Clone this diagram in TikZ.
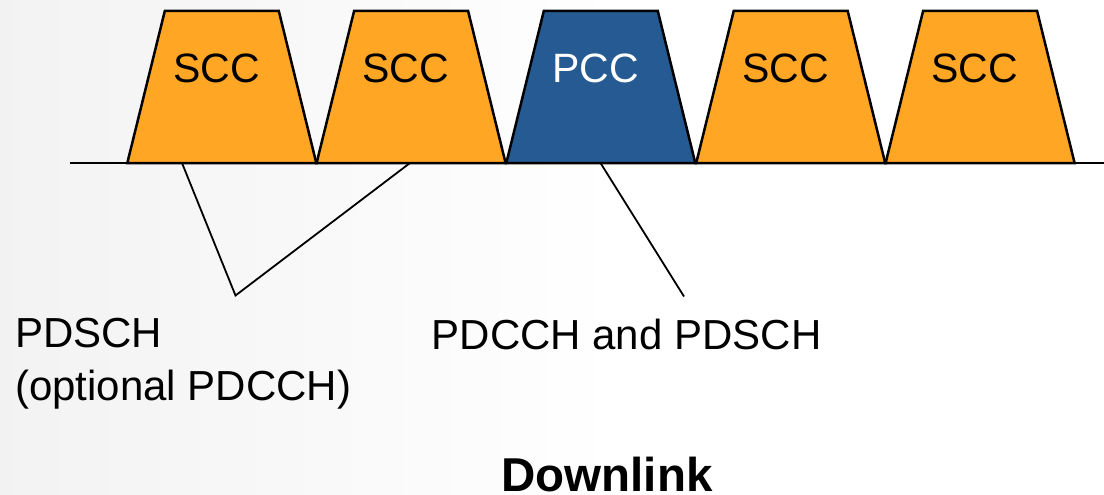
\documentclass[tikz,border=0pt]{standalone}
\usepackage{fontspec}
\setmainfont{Liberation Sans}
\definecolor{sccfill}{RGB}{255,166,36}
\definecolor{pccfill}{RGB}{37,90,146}
\begin{document}
\begin{tikzpicture}[x=1pt,y=-1pt,
  carrier/.style={draw=black,line width=2.5pt,line join=miter},
  axisline/.style={draw=black,line width=2.5pt},
  leader/.style={draw=black,line width=1.8pt},
  cctext/.style={inner sep=0pt,anchor=base,font=\fontsize{41}{49}\selectfont},
  chtext/.style={inner sep=0pt,anchor=base west,font=\fontsize{42}{50}\selectfont},
  titletext/.style={inner sep=0pt,anchor=base,font=\fontsize{47.5}{57}\selectfont\bfseries}]
  \useasboundingbox (0,0) rectangle (1104,495);
  % soft grey-to-white backdrop
  \fill[white] (0,0) rectangle (1104,495);
  \shade[left color=black!5,right color=white] (0,0) rectangle (620,495);

  % component carriers
  \foreach \i/\x/\col in {1/127.3/sccfill,2/316.6/sccfill,3/506.3/pccfill,4/696.2/sccfill,5/885.6/sccfill}{
    \draw[carrier,fill=\col] (\x,163) -- ({\x+37.5},11) -- ({\x+151.5},11) -- ({\x+189},163) -- cycle;
  }
  \node[cctext] (scc1) at (216.5,82) {SCC};
  \node[cctext] (scc2) at (405.8,82) {SCC};
  \node[cctext,text=white] (pcc) at (595.6,82) {PCC};
  \node[cctext] (scc4) at (785.4,82) {SCC};
  \node[cctext] (scc5) at (974.8,82) {SCC};

  % frequency axis
  \draw[axisline] (70,163) -- (1104,163);

  % channel labels
  \node[chtext] (pdsch) at (15,347.3) {PDSCH};
  \node[chtext] (pdschopt) at (15,400) {(optional PDCCH)};
  \node[chtext] (pdcch) at (431.5,349) {PDCCH and PDSCH};
  \node[titletext] (dl) at (607,491.5) {Downlink};

  % leader lines from the carriers to the labels
  \coordinate (s1) at (182,163);
  \coordinate (s2) at (410,163);
  \coordinate (s3) at (600.5,163);
  \coordinate (j1) at (235.5,295.5);
  \coordinate (j2) at (684,296.5);
  \draw[leader] (s1) -- (j1) -- (s2);
  \draw[leader] (s3) -- (j2);
\end{tikzpicture}
\end{document}
